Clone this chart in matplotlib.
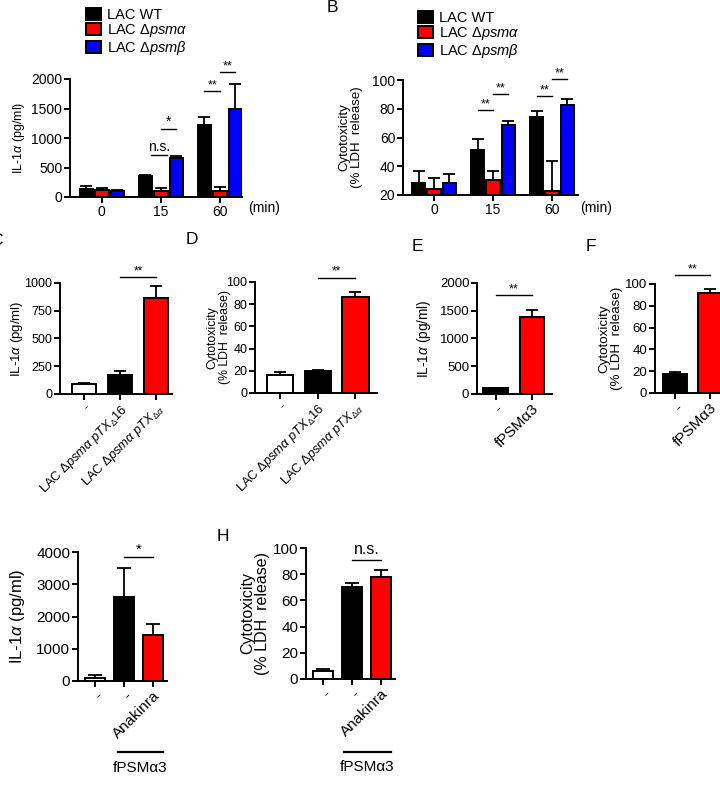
import numpy as np
import matplotlib
matplotlib.use('Agg')
import matplotlib.pyplot as plt
from matplotlib.transforms import blended_transform_factory

plt.rcParams['font.family'] = ['Liberation Sans', 'DejaVu Sans']
plt.rcParams['mathtext.fontset'] = 'custom'
plt.rcParams['mathtext.rm'] = 'Liberation Sans'
plt.rcParams['mathtext.it'] = 'Liberation Sans:italic'
plt.rcParams['mathtext.bf'] = 'Liberation Sans:bold'

# ---- data ----
# A: IL-1a over time
times = ['0', '15', '60']
strains = ['LAC WT', 'LAC $\\mathit{Δpsmα}$', 'LAC $\\mathit{Δpsmβ}$']
strain_colors = ['#000000', '#ff0000', '#0000ff']
a_wt = [130, 350, 1220]
a_wt_err = [50, 30, 130]
a_psma = [115, 110, 110]
a_psma_err = [30, 50, 55]
a_psmb = [110, 660, 1490]
a_psmb_err = [10, 30, 420]

# B: cytotoxicity over time
b_wt = [28.6, 51.3, 74.5]
b_wt_err = [8.4, 7.4, 4.0]
b_psma = [24.2, 30.2, 22.8]
b_psma_err = [7.4, 6.8, 21.0]
b_psmb = [28.1, 68.7, 82.6]
b_psmb_err = [6.5, 3.0, 4.0]

# C / D: complementation
cd_labels = ['-', 'LAC $\\mathit{Δpsmα\\ pTX}_{Δ}$16', 'LAC $\\mathit{Δpsmα\\ pTX}_{Δα}$']
cd_colors = ['white', 'black', '#ff0000']
c_vals = [90, 174, 862]
c_err = [7, 36, 107]
d_vals = [16.2, 20.1, 86.2]
d_err = [3.0, 0.6, 5.1]

# E / F: synthetic peptide
ef_labels = ['-', 'fPSMα3']
ef_colors = ['black', '#ff0000']
e_vals = [100, 1393]
e_err = [5, 122]
f_vals = [17.2, 92.0]
f_err = [2.4, 3.0]

# G / H: anakinra
gh_labels = ['-', '-', 'Anakinra']
gh_colors = ['white', 'black', '#ff0000']
g_vals = [100, 2614, 1426]
g_err = [86, 880, 331]
h_vals = [6.4, 70.0, 77.6]
h_err = [1.0, 3.5, 5.6]

W, H = 720, 798
fig = plt.figure(figsize=(W / 100, H / 100), dpi=100)


def add_ax(l, t, r, b):
    return fig.add_axes([l / W, 1 - b / H, (r - l) / W, (b - t) / H])


def style(ax, fs):
    for s in ['top', 'right']:
        ax.spines[s].set_visible(False)
    for s in ['left', 'bottom']:
        ax.spines[s].set_linewidth(1.4)
    ax.tick_params(direction='out', length=4, width=1.4, labelsize=fs, pad=1.5)


def sig(ax, x1, x2, y, txt, fs, dy):
    ax.plot([x1, x2], [y, y], color='k', lw=1.0, clip_on=False)
    ax.text((x1 + x2) / 2, y + dy, txt, ha='center', va='bottom', fontsize=fs, clip_on=False)


def ylab(ax, text, fs, x):
    ax.set_ylabel(text, fontsize=fs, linespacing=1.0)
    ax.yaxis.set_label_coords(x, 0.5)


def fig_text(x, y, s, fs=12, **kw):
    fig.text(x / W, 1 - y / H, s, fontsize=fs, va='top', **kw)


ebar = dict(fmt='none', ecolor='k', elinewidth=1.3, capthick=1.3, zorder=1)
leg_kw = dict(bbox_transform=fig.transFigure, loc='upper left', frameon=False, fontsize=10.5,
              handlelength=1.0, handleheight=0.8, handletextpad=0.45, labelspacing=0.0,
              borderpad=0, borderaxespad=0)

# ---- A ----
ax = add_ax(70, 79, 242, 197)
x = np.arange(len(times))
off = [-0.262, 0.0, 0.262]
bw = 0.225
groups = [(a_wt, a_wt_err), (a_psma, a_psma_err), (a_psmb, a_psmb_err)]
for k, (v, e) in enumerate(groups):
    ax.bar(x + off[k], v, bw, color=strain_colors[k], edgecolor='k', lw=1.4,
           label=strains[k], zorder=2)
    ax.errorbar(x + off[k], v, yerr=[np.zeros(3), e], capsize=4.5, **ebar)
ax.set_ylim(0, 2000)
ax.set_yticks([0, 500, 1000, 1500, 2000])
ax.set_xlim(-0.54, 2.375)
ax.set_xticks(x)
ax.set_xticklabels(times)
style(ax, 10)
ylab(ax, 'IL-1$\\alpha$ (pg/ml)', 9, -0.25)
ax.text(1.035, -0.093, '(min)', transform=ax.transAxes, fontsize=10, va='center')
sig(ax, 1 + off[0] + 0.1, 1 + off[1] + 0.1, 712, 'n.s.', 10, 20)
sig(ax, 1 + off[1], 1 + off[2], 1153, '*', 10, 0)
sig(ax, 2 + off[0], 2 + off[1], 1797, '**', 9, 0)
sig(ax, 2 + off[1], 2 + off[2], 2119, '**', 9, 0)
ax.legend(bbox_to_anchor=(86 / W, 1 - 8 / H), **leg_kw)

# ---- B ----
ax = add_ax(403, 80, 578, 195)
groups = [(b_wt, b_wt_err), (b_psma, b_psma_err), (b_psmb, b_psmb_err)]
for k, (v, e) in enumerate(groups):
    ax.bar(x + off[k], np.array(v) - 20, bw, bottom=20, color=strain_colors[k], edgecolor='k',
           lw=1.4, label=strains[k], zorder=2)
    ax.errorbar(x + off[k], v, yerr=[np.zeros(3), e], capsize=4.5, **ebar)
ax.set_ylim(20, 100)
ax.set_yticks([20, 40, 60, 80, 100])
ax.set_xlim(-0.525, 2.44)
ax.set_xticks(x)
ax.set_xticklabels(times)
style(ax, 10)
ylab(ax, 'Cytotoxicity\n(% LDH  release)', 9.5, -0.23)
ax.text(1.011, -0.113, '(min)', transform=ax.transAxes, fontsize=10, va='center')
sig(ax, 1 + off[0], 1 + off[1], 79.1, '**', 9, 0)
sig(ax, 1 + off[1], 1 + off[2], 90.3, '**', 9, 0)
sig(ax, 2 + off[0], 2 + off[1], 88.9, '**', 9, 0)
sig(ax, 2 + off[1], 2 + off[2], 100.7, '**', 9, 0)
ax.legend(bbox_to_anchor=(418 / W, 1 - 11 / H), **leg_kw)


def simple_panel(box, labels, colors, vals, errs, ylim, yticks, xl, fs, lfs, ylabel, ylx,
                 width=0.68, cap=4.5, rot=45, xfs=None):
    ax = add_ax(*box)
    xx = np.arange(len(vals))
    ax.bar(xx, vals, width, color=colors, edgecolor='k', lw=1.4, zorder=2)
    ax.errorbar(xx, vals, yerr=[np.zeros(len(vals)), errs], capsize=cap, **ebar)
    ax.set_ylim(*ylim)
    ax.set_yticks(yticks)
    ax.set_xlim(*xl)
    ax.set_xticks(xx)
    ax.set_xticklabels(labels, rotation=rot, ha='right', rotation_mode='anchor')
    style(ax, fs)
    ax.tick_params(axis='x', labelsize=xfs or fs)
    ylab(ax, ylabel, lfs, ylx)
    return ax


# ---- C ----
ax = simple_panel((60, 283, 172, 394), cd_labels, cd_colors, c_vals, c_err, (0, 1000),
                  [0, 250, 500, 750, 1000], (-0.667, 2.44), 9, 9.5, 'IL-1$\\alpha$ (pg/ml)', -0.31,
                  width=0.67, xfs=9.3)
sig(ax, 1, 2, 1054, '**', 8.5, 0)

# ---- D ----
ax = simple_panel((255, 282, 377, 393), cd_labels, cd_colors, d_vals, d_err, (0, 100),
                  [0, 20, 40, 60, 80, 100], (-0.66, 2.57), 9, 8.8, 'Cytotoxicity\n(% LDH  release)',
                  -0.2, width=0.69, xfs=9.3)
sig(ax, 1, 2, 104, '**', 8.5, 0)

# ---- E ----
ax = simple_panel((477, 283, 552, 394), ef_labels, ef_colors, e_vals, e_err, (0, 2000),
                  [0, 500, 1000, 1500, 2000], (-0.507, 1.548), 9.5, 9.8, 'IL-1$\\alpha$ (pg/ml)', -0.59,
                  width=0.68, xfs=11)
sig(ax, 0, 1, 1784, '**', 9, 0)

# ---- F ----
ax = simple_panel((655, 284, 740, 393), ef_labels, ef_colors, f_vals, f_err, (0, 100),
                  [0, 20, 40, 60, 80, 100], (-0.571, 1.857), 9.5, 9.6, 'Cytotoxicity\n(% LDH  release)',
                  -0.38, width=0.69, xfs=11)
sig(ax, 0, 1, 108, '**', 9, 0)

# ---- G ----
ax = simple_panel((78, 552, 167, 681), gh_labels, gh_colors, g_vals, g_err, (0, 4000),
                  [0, 1000, 2000, 3000, 4000], (-0.586, 2.48), 11, 12, 'IL-1$\\alpha$ (pg/ml)', -0.57,
                  width=0.69, cap=5)
sig(ax, 1, 2, 3855, '*', 11, 0)
tr = blended_transform_factory(ax.transData, ax.transAxes)
ax.plot([0.79, 2.34], [-0.55, -0.55], color='k', lw=1.6, transform=tr, clip_on=False)
ax.text(1.56, -0.62, 'fPSMα3', transform=tr, ha='center', va='top', fontsize=11)

# ---- H ----
ax = simple_panel((306, 548, 395, 679), gh_labels, gh_colors, h_vals, h_err, (0, 100),
                  [0, 20, 40, 60, 80, 100], (-0.586, 2.48), 11, 11.5,
                  'Cytotoxicity\n(% LDH  release)', -0.4, width=0.69, cap=5)
sig(ax, 1, 2, 90.8, 'n.s.', 11.5, 2)
tr = blended_transform_factory(ax.transData, ax.transAxes)
ax.plot([0.72, 2.34], [-0.557, -0.557], color='k', lw=1.6, transform=tr, clip_on=False)
ax.text(1.53, -0.62, 'fPSMα3', transform=tr, ha='center', va='top', fontsize=11)

# panel letters (C is cut by the left edge in the original)
fig_text(327, 0, 'B', 12.5)
fig_text(3, 233, 'C', 12.5, ha='right')
fig_text(186, 232, 'D', 12.5)
fig_text(412, 239, 'E', 12.5)
fig_text(586, 239, 'F', 12.5)
fig_text(217, 529, 'H', 12.5)

fig.savefig('out.png', dpi=100)
